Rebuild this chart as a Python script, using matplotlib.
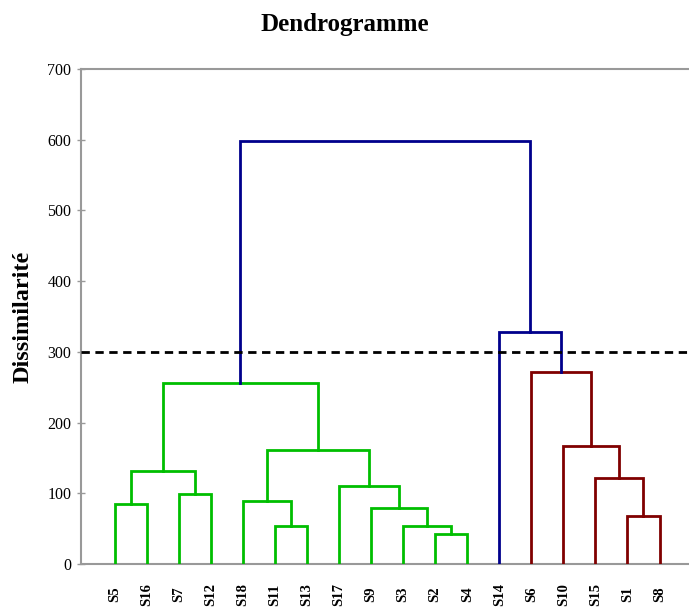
import matplotlib

matplotlib.use("Agg")
import matplotlib.pyplot as plt

# feuilles dans l'ordre du dendrogramme
feuilles = ["S5", "S16", "S7", "S12", "S18", "S11", "S13", "S17", "S9",
            "S3", "S2", "S4", "S14", "S6", "S10", "S15", "S1", "S8"]
groupe_feuille = ["vert"] * 12 + ["bleu"] + ["rouge"] * 5

# fusions (type linkage) : noeud gauche, noeud droit, dissimilarité
# les noeuds 0..17 sont les feuilles, les suivants sont créés dans l'ordre
fusion_gauche = [10, 5, 9, 16, 8, 0, 4, 2, 7, 15, 23, 24, 14, 28, 13, 12, 31]
fusion_droite = [11, 6, 18, 17, 20, 1, 19, 3, 22, 21, 25, 26, 27, 29, 30, 32, 33]
fusion_hauteur = [42.4, 54.0, 54.4, 68.3, 78.7, 84.9, 89.1, 98.5, 109.8,
                  121.2, 132.0, 161.2, 166.9, 255.5, 271.1, 328.5, 598.0]

seuil = 300
couleurs = {"vert": "#00be00", "rouge": "#800000", "bleu": "#00008c"}

x_noeud = {i: float(i) for i in range(len(feuilles))}
h_noeud = {i: 0.0 for i in range(len(feuilles))}
groupe_noeud = {i: {groupe_feuille[i]} for i in range(len(feuilles))}

figura = plt.figure(figsize=(6.89, 6.09), dpi=100)
eje = figura.add_axes([81 / 689, 45 / 609, 1 - 81 / 689, (564 - 69) / 609])

for k, (a, b, h) in enumerate(zip(fusion_gauche, fusion_droite, fusion_hauteur)):
    n = len(feuilles) + k
    x_noeud[n] = (x_noeud[a] + x_noeud[b]) / 2
    h_noeud[n] = h
    groupe_noeud[n] = groupe_noeud[a] | groupe_noeud[b]
    if h > seuil or len(groupe_noeud[n]) > 1:
        c = couleurs["bleu"]
    else:
        c = couleurs[next(iter(groupe_noeud[n]))]
    eje.plot([x_noeud[a], x_noeud[a], x_noeud[b], x_noeud[b]],
             [h_noeud[a], h, h, h_noeud[b]], color=c, lw=2.0,
             solid_joinstyle="miter", zorder=3)

eje.axhline(seuil, color="black", lw=2.0, ls=(0, (3, 2)), zorder=4)

eje.set_xlim(-1.05, 17.92)
eje.set_ylim(0, 700)
eje.set_yticks(range(0, 701, 100))
eje.set_xticks(range(len(feuilles)))
eje.set_xticklabels(feuilles, rotation=90, fontfamily="Liberation Serif",
                    fontweight="bold", fontsize=10.5, va="center")
eje.tick_params(axis="x", length=0, pad=22)
eje.tick_params(axis="y", direction="inout", length=6, width=1,
                color="#999999", labelsize=11.5, pad=4)
for t in eje.get_yticklabels():
    t.set_fontfamily("Liberation Serif")

for lado in ["left", "bottom", "top"]:
    eje.spines[lado].set_color("#999999")
    eje.spines[lado].set_linewidth(1.5)
eje.spines["right"].set_visible(False)

eje.set_ylabel("Dissimilarité", fontfamily="Liberation Serif",
               fontweight="bold", fontsize=17.5, labelpad=10)
figura.text(0.5 + 0.0, 1 - 25 / 609, "Dendrogramme", ha="center", va="center",
            fontfamily="Liberation Serif", fontweight="bold", fontsize=18)

figura.savefig("out.png", dpi=100)
plt.close(figura)
